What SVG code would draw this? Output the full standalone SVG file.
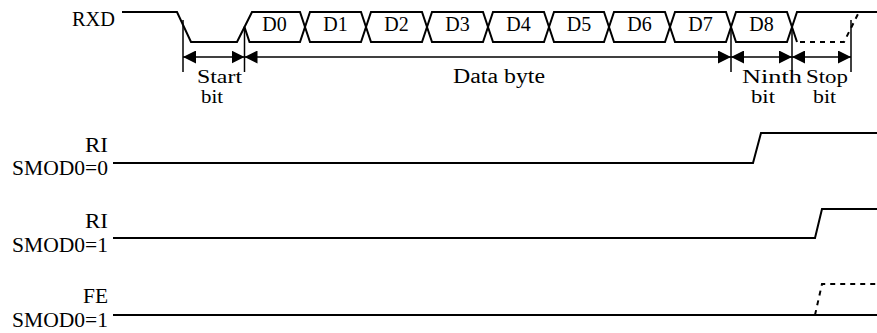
<svg xmlns="http://www.w3.org/2000/svg" width="877" height="333" viewBox="0 0 877 333">
<style>
text { font-family: "Liberation Serif", "Times New Roman", serif; font-size: 20px; fill: #000; }
.lbl { font-size: 18px; }
.sig { fill: none; stroke: #000; stroke-width: 2; stroke-linejoin: miter; }
.dash { fill: none; stroke: #000; stroke-width: 2; stroke-dasharray: 5 5; }
.tick { stroke: #000; stroke-width: 1.5; }
.dim { stroke: #000; stroke-width: 1.5; marker-start: url(#ah); marker-end: url(#ah); }
.m { text-anchor: middle; }
</style>
<defs>
<marker id="ah" markerUnits="userSpaceOnUse" markerWidth="13" markerHeight="13" refX="13" refY="6.5" orient="auto-start-reverse" viewBox="0 0 13 13"><path d="M0,0 L13,6.5 L0,13 Z" fill="#000"/></marker>
</defs>

<g id="rxd">
<text x="72" y="26" textLength="43" lengthAdjust="spacingAndGlyphs">RXD</text>
<path class="sig" d="M122,12 H177 L191,42 H237 L244.5,27"/>
<g id="d0"><polygon class="sig" points="244.5,27 252,12 300,12 305,27 300,42 249.5,42"/><text class="m" x="274.5" y="31">D0</text></g>
<g id="d1"><polygon class="sig" points="305,27 310,12 361,12 366,27 361,42 310,42"/><text class="m" x="335.5" y="31">D1</text></g>
<g id="d2"><polygon class="sig" points="366,27 371,12 422,12 427,27 422,42 371,42"/><text class="m" x="396.5" y="31">D2</text></g>
<g id="d3"><polygon class="sig" points="427,27 432,12 483,12 488,27 483,42 432,42"/><text class="m" x="457.5" y="31">D3</text></g>
<g id="d4"><polygon class="sig" points="488,27 493,12 544,12 549,27 544,42 493,42"/><text class="m" x="518.5" y="31">D4</text></g>
<g id="d5"><polygon class="sig" points="549,27 554,12 604,12 609,27 604,42 554,42"/><text class="m" x="579" y="31">D5</text></g>
<g id="d6"><polygon class="sig" points="609,27 614,12 665,12 670,27 665,42 614,42"/><text class="m" x="639.5" y="31">D6</text></g>
<g id="d7"><polygon class="sig" points="670,27 675,12 726,12 731,27 726,42 675,42"/><text class="m" x="700.5" y="31">D7</text></g>
<g id="d8"><polygon class="sig" points="731,27 736,12 787,12 792,27 787,42 736,42"/><text class="m" x="761.5" y="31">D8</text></g>
<g id="stop">
<path class="sig" d="M792,27 L797,12 H877 M792,27 L797,42"/>
<path class="dash" d="M800,42 H844 L859,12"/>
</g>
</g>

<g id="dimensions">
<line class="tick" x1="183" y1="20" x2="183" y2="72"/>
<line class="tick" x1="244.5" y1="27" x2="244.5" y2="72"/>
<line class="tick" x1="731" y1="27" x2="731" y2="72"/>
<line class="tick" x1="792" y1="27" x2="792" y2="72"/>
<line class="tick" x1="851" y1="20" x2="851" y2="72"/>
<line class="dim" x1="183" y1="57" x2="244.5" y2="57"/>
<line class="dim" x1="244.5" y1="57" x2="731" y2="57"/>
<line class="dim" x1="731" y1="57" x2="792" y2="57"/>
<line class="dim" x1="792" y1="57" x2="851" y2="57"/>
<text class="lbl" x="197" y="83" textLength="45" lengthAdjust="spacingAndGlyphs">Start</text>
<text class="lbl" x="201" y="103" textLength="22" lengthAdjust="spacingAndGlyphs">bit</text>
<text x="453" y="83" textLength="92" lengthAdjust="spacingAndGlyphs">Data byte</text>
<text class="lbl" x="742" y="83" textLength="60" lengthAdjust="spacingAndGlyphs">Ninth</text>
<text class="lbl" x="751" y="103" textLength="24" lengthAdjust="spacingAndGlyphs">bit</text>
<text class="lbl" x="806" y="83" textLength="42" lengthAdjust="spacingAndGlyphs">Stop</text>
<text class="lbl" x="813" y="103" textLength="23" lengthAdjust="spacingAndGlyphs">bit</text>
</g>

<g id="ri0">
<text x="85" y="152" textLength="23" lengthAdjust="spacingAndGlyphs">RI</text>
<text x="12" y="175" textLength="96" lengthAdjust="spacingAndGlyphs">SMOD0=0</text>
<path class="sig" d="M113,163 H753 L761,133 H877"/>
</g>

<g id="ri1">
<text x="85" y="228" textLength="23" lengthAdjust="spacingAndGlyphs">RI</text>
<text x="12" y="251.5" textLength="96" lengthAdjust="spacingAndGlyphs">SMOD0=1</text>
<path class="sig" d="M113,238 H815 L822,209 H877"/>
</g>

<g id="fe">
<text x="83" y="303" textLength="25" lengthAdjust="spacingAndGlyphs">FE</text>
<text x="12" y="327" textLength="96" lengthAdjust="spacingAndGlyphs">SMOD0=1</text>
<path class="sig" d="M113,315 H877"/>
<path class="dash" d="M815,315 L822,284 H877"/>
</g>
</svg>
